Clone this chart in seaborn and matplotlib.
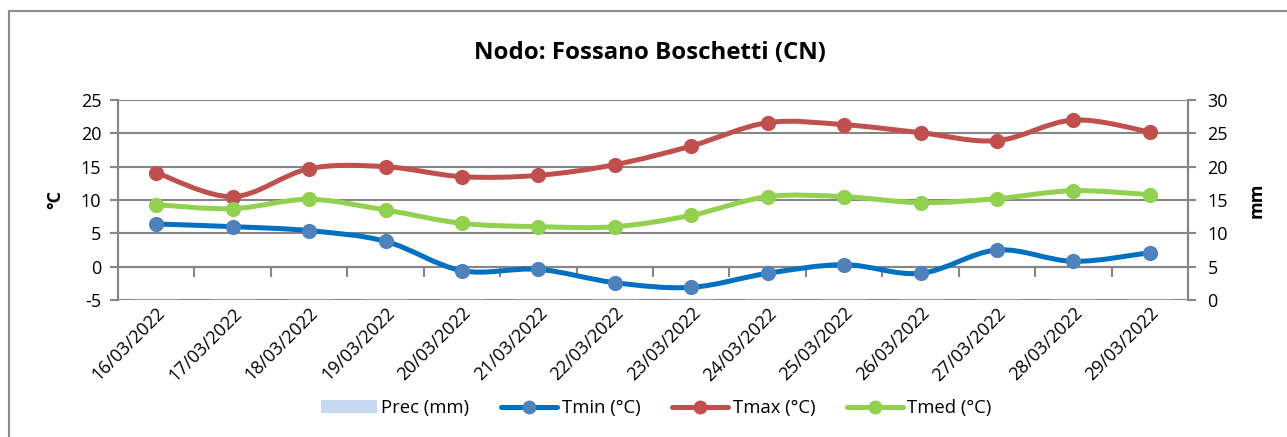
import numpy as np
import pandas as pd
import matplotlib
matplotlib.use("Agg")
import matplotlib.pyplot as plt
from matplotlib.path import Path
from matplotlib.patches import PathPatch, Patch
from matplotlib.lines import Line2D
import seaborn as sns

# data
dates = ["16/03/2022", "17/03/2022", "18/03/2022", "19/03/2022", "20/03/2022",
         "21/03/2022", "22/03/2022", "23/03/2022", "24/03/2022", "25/03/2022",
         "26/03/2022", "27/03/2022", "28/03/2022", "29/03/2022"]
prec = [0, 0, 0, 0, 0, 0, 0, 0, 0, 0, 0, 0, 0, 0]
tmin = [6.4, 6.0, 5.4, 3.8, -0.6, -0.4, -2.4, -3.1, -1.0, 0.3, -1.0, 2.5, 0.8, 2.1]
tmax = [14.1, 10.5, 14.7, 15.0, 13.5, 13.7, 15.3, 18.1, 21.6, 21.3, 20.1, 18.9, 22.0, 20.2]
tmed = [9.3, 8.7, 10.1, 8.5, 6.5, 6.0, 6.0, 7.7, 10.5, 10.5, 9.6, 10.2, 11.4, 10.8]

series = [
    ("Tmin (°C)", tmin, "#0070C0", "#4F81BD"),
    ("Tmax (°C)", tmax, "#C0504D", "#C0504D"),
    ("Tmed (°C)", tmed, "#92D050", "#92D050"),
]
prec_color = "#C6D9F1"
grid_color = "#868686"


def smooth_path(xs, ys):
    """Excel-like smoothed line: Catmull-Rom turned into cubic Bezier segments."""
    pts = np.column_stack([xs, ys]).astype(float)
    n = len(pts)
    verts = [pts[0]]
    codes = [Path.MOVETO]
    for i in range(n - 1):
        p0 = pts[i - 1] if i > 0 else pts[i]
        p1, p2 = pts[i], pts[i + 1]
        p3 = pts[i + 2] if i + 2 < n else pts[i + 1]
        verts += [p1 + (p2 - p0) / 6, p2 - (p3 - p1) / 6, p2]
        codes += [Path.CURVE4] * 3
    return Path(verts, codes)


sns.set_style("white")
plt.rcParams["font.family"] = ["Open Sans", "DejaVu Sans"]
plt.rcParams["font.size"] = 13
plt.rcParams["axes.unicode_minus"] = False
plt.rcParams["text.color"] = "black"
plt.rcParams["axes.labelcolor"] = "black"
plt.rcParams["xtick.labelcolor"] = "black"
plt.rcParams["ytick.labelcolor"] = "black"

fig = plt.figure(figsize=(12.87, 4.37), dpi=100)
ax = fig.add_axes([118 / 1287, 1 - 300 / 437, (1188 - 118) / 1287, 200 / 437])
ax2 = ax.twinx()

pos = np.arange(len(dates))
df = pd.DataFrame({"pos": pos, "prec": prec})

# precipitation bars on the right axis (all zero in this period)
sns.barplot(data=df, x="pos", y="prec", ax=ax2, color=prec_color,
            native_scale=True, width=0.6)
ax2.set_ylim(0, 30)
ax2.set_yticks(np.arange(0, 31, 5))
ax2.set_ylabel("mm", fontweight="bold", labelpad=14)

# temperature lines on the left axis
for name, vals, lc, mc in series:
    ax.add_patch(PathPatch(smooth_path(pos, vals), fill=False, edgecolor=lc,
                           lw=3.6, capstyle="round", joinstyle="round", zorder=3))
    sns.scatterplot(x=pos, y=vals, ax=ax, color=mc, s=120, linewidth=0, zorder=4)

ax.set_ylim(-5, 25)
ax.set_yticks(np.arange(-5, 26, 5))
ax.set_xlim(-0.5, len(dates) - 0.5)
ax.set_xticks(pos)
ax.set_xticklabels(dates, rotation=45, ha="right", rotation_mode="anchor")
ax.tick_params(axis="x", length=0, pad=3)
ax.set_ylabel("°C", fontweight="bold", labelpad=12)
ax.set_xlabel("")
ax2.set_xlabel("")

ax.grid(axis="y", color=grid_color, lw=1.5)
ax.grid(axis="x", visible=False)
for a in (ax, ax2):
    for s in ("top", "bottom"):
        a.spines[s].set_visible(False)
    a.spines["left"].set_color(grid_color)
    a.spines["right"].set_color(grid_color)
    a.spines["left"].set_linewidth(1.5)
    a.spines["right"].set_linewidth(1.5)
    a.tick_params(axis="y", direction="out", length=6, width=1.5, color=grid_color)
ax.tick_params(axis="y", left=True, pad=6)
ax2.tick_params(axis="y", right=True, pad=8)

# category axis crossing at 0 with ticks between the days
sec = ax.secondary_xaxis(5 / 30)
sec.set_xticks(np.arange(0.5, len(dates) - 0.5, 1))
sec.tick_params(axis="x", direction="out", length=7, width=1.5,
                color=grid_color, labelbottom=False, labeltop=False)
for s in sec.spines.values():
    s.set_color(grid_color)
    s.set_linewidth(1.5)

fig.text(0.505, 1 - 53 / 437, "Nodo: Fossano Boschetti (CN)", ha="center",
         va="center", fontsize=17.3, fontweight="bold")

handles = [Patch(facecolor=prec_color, edgecolor="none")]
for name, vals, lc, mc in series:
    handles.append(Line2D([], [], color=lc, lw=3.6, marker="o", markersize=10,
                          markerfacecolor=mc, markeredgewidth=0))
labels = ["Prec (mm)"] + [s[0] for s in series]
fig.legend(handles, labels, loc="center", bbox_to_anchor=(0.51, 1 - 408 / 437),
           ncol=4, frameon=False, handlelength=3.0, handletextpad=0.25,
           columnspacing=1.75, fontsize=13.3)

# chart border (cropped on the right and bottom in the reference)
fig.add_artist(Line2D([9 / 1287, 9 / 1287], [0, 1 - 11 / 437], color="#8C8C8C",
                      lw=1.5, transform=fig.transFigure))
fig.add_artist(Line2D([9 / 1287, 1], [1 - 11 / 437, 1 - 11 / 437], color="#8C8C8C",
                      lw=1.5, transform=fig.transFigure))

fig.savefig("out.png", dpi=100)
